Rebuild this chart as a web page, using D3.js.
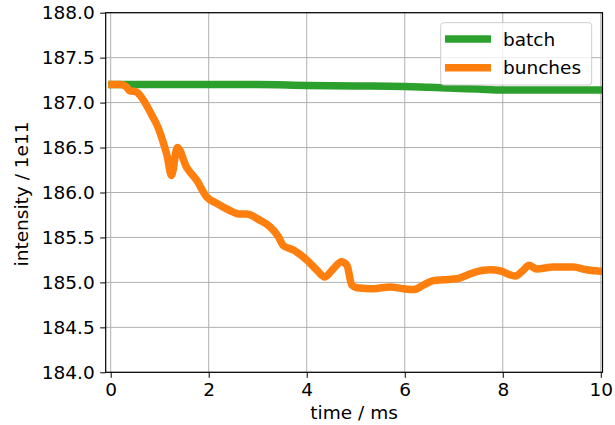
<!DOCTYPE html>
<html><head><meta charset="utf-8">
<script src="https://cdn.jsdelivr.net/npm/d3@7"></script>
<style>body{margin:0;background:#fff;} svg{display:block;font-family:"DejaVu Sans",sans-serif;}</style>
</head><body>
<script>
const xTicks = [0, 2, 4, 6, 8, 10];
const yTicks = [184.0, 184.5, 185.0, 185.5, 186.0, 186.5, 187.0, 187.5, 188.0];
const seriesNames = ["batch", "bunches"];
const batchT = [-0.05, 1, 2, 3, 4, 5, 6, 6.5, 7, 7.5, 8, 9, 10.05];
const batchV = [187.2, 187.2, 187.2, 187.2, 187.19, 187.185, 187.18, 187.17, 187.16, 187.15, 187.14, 187.14, 187.14];
const bunchT = [-0.05, 0.19, 0.31, 0.39, 0.52, 0.6, 0.72, 0.84, 0.97, 1.07, 1.15, 1.24, 1.36, 1.55, 1.75, 1.96, 2.16, 2.43, 2.64, 2.77, 3.05, 3.25, 3.42, 3.52, 3.73, 4.0, 4.2, 4.37, 4.54, 4.71, 4.82, 4.92, 5.02, 5.36, 5.7, 5.97, 6.18, 6.38, 6.58, 6.79, 7.06, 7.27, 7.47, 7.74, 7.94, 8.25, 8.39, 8.54, 8.69, 9.03, 9.44, 9.71, 10.05];
const bunchV = [187.2, 187.2, 187.18, 187.13, 187.12, 187.08, 186.98, 186.86, 186.72, 186.56, 186.41, 186.19, 186.5, 186.28, 186.14, 185.95, 185.88, 185.8, 185.76, 185.76, 185.69, 185.62, 185.51, 185.41, 185.36, 185.25, 185.14, 185.06, 185.15, 185.23, 185.19, 184.97, 184.94, 184.93, 184.95, 184.93, 184.92, 184.97, 185.02, 185.03, 185.04, 185.08, 185.12, 185.14, 185.13, 185.07, 185.12, 185.19, 185.15, 185.17, 185.17, 185.14, 185.12];
const colors = ["#2ca02c", "#ff7f0e"];

const W = 615, H = 425;
const FS = 18.5;
const m = {left: 105.7, right: 602.5, top: 12.7, bottom: 372.3};
const x = d3.scaleLinear().domain([-0.102, 10.035]).range([m.left, m.right]);
const y = d3.scaleLinear().domain([184, 188]).range([m.bottom, m.top]);

const svg = d3.select("body").append("svg").attr("width", W).attr("height", H);

// grid
svg.append("g").selectAll("line").data(xTicks).join("line")
  .attr("x1", d => x(d)).attr("x2", d => x(d)).attr("y1", m.top).attr("y2", m.bottom)
  .attr("stroke", "#b0b0b0").attr("stroke-width", 1);
svg.append("g").selectAll("line").data(yTicks).join("line")
  .attr("x1", m.left).attr("x2", m.right).attr("y1", d => y(d)).attr("y2", d => y(d))
  .attr("stroke", "#b0b0b0").attr("stroke-width", 1);

svg.append("clipPath").attr("id", "clip").append("rect")
  .attr("x", m.left).attr("y", m.top).attr("width", m.right - m.left).attr("height", m.bottom - m.top);

const line = d3.line().x(d => x(d[0])).y(d => y(d[1])).curve(d3.curveMonotoneX);
const data = [batchT.map((t, i) => [t, batchV[i]]), bunchT.map((t, i) => [t, bunchV[i]])];
const g = svg.append("g").attr("clip-path", "url(#clip)");
data.forEach((d, i) => {
  g.append("path").datum(d).attr("d", line).attr("fill", "none")
    .attr("stroke", colors[i]).attr("stroke-width", 7.5).attr("stroke-linejoin", "round").attr("stroke-linecap", "butt");
});

// axes
const xAxis = svg.append("g").attr("transform", `translate(0,${m.bottom})`)
  .call(d3.axisBottom(x).tickValues(xTicks).tickFormat(d3.format("d")).tickSize(5.5).tickPadding(5));
const yAxis = svg.append("g").attr("transform", `translate(${m.left},0)`)
  .call(d3.axisLeft(y).tickValues(yTicks).tickFormat(d3.format(".1f")).tickSize(5.5).tickPadding(5.5));
[xAxis, yAxis].forEach(a => {
  a.select(".domain").remove();
  a.selectAll("text").attr("font-size", FS).attr("font-family", "DejaVu Sans").attr("fill", "#000");
  a.selectAll("line").attr("stroke", "#000").attr("stroke-width", 1);
});
svg.append("rect").attr("x", m.left).attr("y", m.top).attr("width", m.right - m.left).attr("height", m.bottom - m.top)
  .attr("fill", "none").attr("stroke", "#000").attr("stroke-width", 1.2);

svg.append("text").attr("x", (m.left + m.right) / 2).attr("y", 419).attr("text-anchor", "middle")
  .attr("font-size", FS).text("time / ms");
svg.append("text").attr("transform", `translate(28,194) rotate(-90)`).attr("text-anchor", "middle")
  .attr("font-size", FS).text("intensity / 1e11");

// legend
const lg = svg.append("g");
lg.append("rect").attr("x", 440.7).attr("y", 22.7).attr("width", 151).attr("height", 62.3).attr("rx", 3)
  .attr("fill", "#fff").attr("fill-opacity", 0.8).attr("stroke", "#cccccc").attr("stroke-width", 1);
seriesNames.forEach((n, i) => {
  const yy = 39 + i * 28.7;
  lg.append("line").attr("x1", 445).attr("x2", 491).attr("y1", yy).attr("y2", yy)
    .attr("stroke", colors[i]).attr("stroke-width", 7.5);
  lg.append("text").attr("x", 503).attr("y", yy + 6.5).attr("font-size", FS).text(n);
});
</script>
</body></html>
